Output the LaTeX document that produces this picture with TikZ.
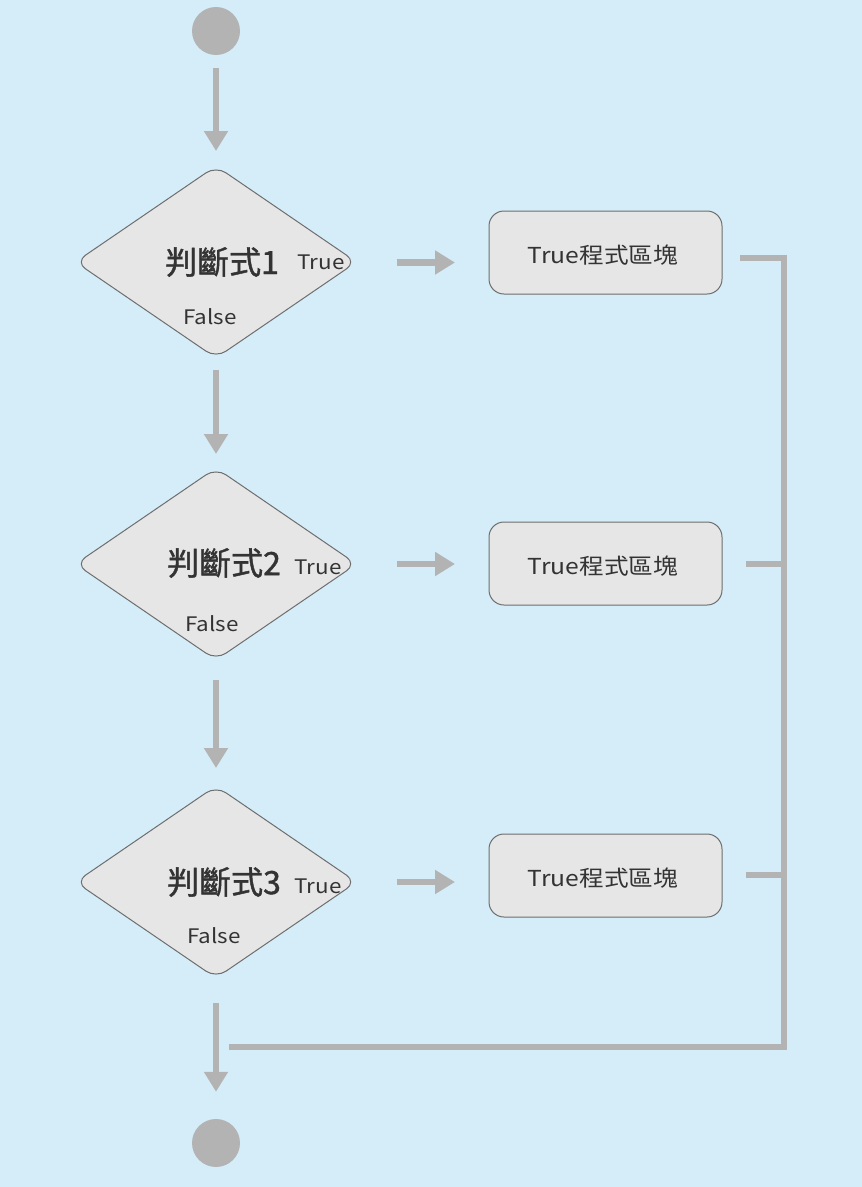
\documentclass[tikz,border=0pt]{standalone}
\usepackage{fontspec}
\setmainfont{Noto Sans CJK TC}
\newfontfamily\widefont[FakeStretch=1.12]{Noto Sans CJK TC}
\newfontfamily\condfont[FakeBold=1.3]{Noto Sans CJK TC}
\usetikzlibrary{shapes.geometric,arrows.meta}
\definecolor{bgblue}{RGB}{212,237,249}
\definecolor{flowgray}{RGB}{179,179,179}
\definecolor{shapefill}{RGB}{230,230,230}
\definecolor{shapeline}{RGB}{110,110,110}
\definecolor{txt}{RGB}{51,51,51}
\tikzset{
  decision/.style={diamond, draw=shapeline, line width=1pt, fill=shapefill,
    rounded corners=12pt, inner sep=0pt, outer sep=0pt,
    minimum width=281pt, minimum height=192pt},
  block/.style={rectangle, draw=shapeline, line width=1pt, fill=shapefill,
    rounded corners=15pt, inner sep=0pt, outer sep=0pt,
    minimum width=233pt, minimum height=83pt},
  blocktext/.style={text=txt, inner sep=0pt, font=\widefont\fontsize{22pt}{26pt}\selectfont},
  endpoint/.style={circle, fill=flowgray, inner sep=0pt, minimum size=48pt},
  condtext/.style={text=txt, inner sep=0pt, font=\condfont\fontsize{32pt}{34pt}\selectfont},
  smalltext/.style={text=txt, inner sep=0pt, font=\widefont\fontsize{20pt}{22pt}\selectfont},
  flow/.style={draw=flowgray, line width=6.5pt, -{Triangle[width=23pt,length=20pt]}},
  flowline/.style={draw=flowgray, line width=6.5pt},
}
\begin{document}
\begin{tikzpicture}[x=1pt,y=-1pt]
\fill[bgblue] (0,0) rectangle (862,1187);
\useasboundingbox (0,0) rectangle (862,1187);

\node[endpoint] (start) at (216,31) {};
\node[endpoint] (stop) at (216,1143) {};

\node[decision] (d1) at (216,262) {};
\node[decision] (d2) at (216,564) {};
\node[decision] (d3) at (216,882) {};

\node[condtext] (c1) at (222,262) {判斷式1};
\node[condtext] (c2) at (224,563) {判斷式2};
\node[condtext] (c3) at (224,882) {判斷式3};

\node[smalltext] (t1) at (321,262) {True};
\node[smalltext] (t2) at (318,567) {True};
\node[smalltext] (t3) at (318,886) {True};

\node[smalltext] (f1) at (210,317) {False};
\node[smalltext] (f2) at (212,624) {False};
\node[smalltext] (f3) at (214,936) {False};

\node[block] (b1) at (605.5,252.5) {};
\node[block] (b2) at (605.5,563.5) {};
\node[block] (b3) at (605.5,875.5) {};
\node[blocktext] (l1) at (603,255) {True程式區塊};
\node[blocktext] (l2) at (603,566) {True程式區塊};
\node[blocktext] (l3) at (603,878) {True程式區塊};

\coordinate (r1) at (784,258);
\coordinate (r2) at (784,564);
\coordinate (r3) at (784,875);
\coordinate (rb) at (784,1047);
\coordinate (jn) at (229,1047);

% vertical flow arrows
\draw[flow, shorten <=13pt, shorten >=15pt] (start.south) -- (d1.north);
\draw[flow, shorten <=12pt, shorten >=14pt] (d1.south) -- (d2.north);
\draw[flow, shorten <=20pt, shorten >=18pt] (d2.south) -- (d3.north);
\draw[flow, shorten <=25pt, shorten >=27pt] (d3.south) -- (stop.north);

% true arrows
\draw[flow, shorten <=40pt, shorten >=34pt] (d1.east |- b1.west) ++(0,10) coordinate (a1s) -- (b1.west |- a1s);
\draw[flow, shorten <=40pt, shorten >=34pt] (d2.east) -- (b2.west |- d2.east);
\draw[flow, shorten <=40pt, shorten >=34pt] (d3.east) -- (b3.west |- d3.east);

% merge lines
\draw[flowline, shorten <=18pt] (b1.east |- r1) -- (r1) -- (rb) -- (jn);
\draw[flowline, shorten <=24pt] (b2.east |- r2) -- (r2);
\draw[flowline, shorten <=24pt] (b3.east |- r3) -- (r3);
\end{tikzpicture}
\end{document}
